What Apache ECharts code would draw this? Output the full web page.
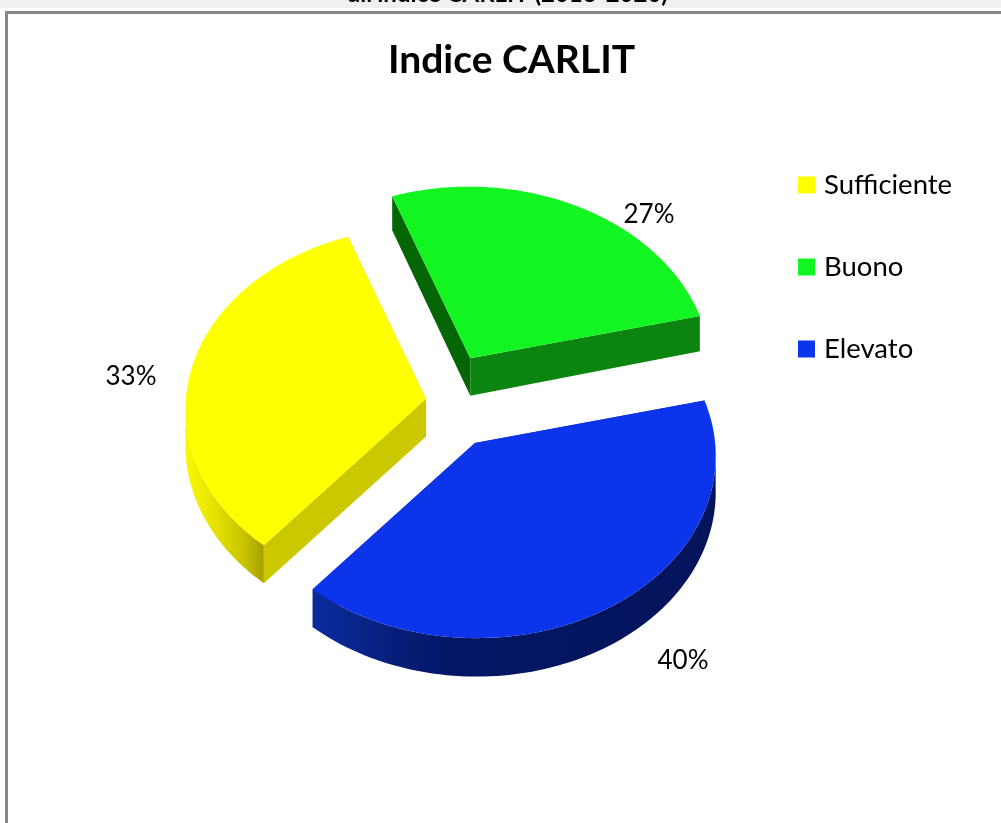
<!DOCTYPE html>
<html>
<head>
<meta charset="utf-8">
<title>Indice CARLIT</title>
<style>
html, body { margin: 0; padding: 0; background: #fff; }
#chart { width: 1001px; height: 823px; }
</style>
<script src="https://cdn.jsdelivr.net/npm/echarts@6/dist/echarts.min.js"></script>
</head>
<body>
<div id="chart"></div>
<script>
// values (labels are the rounded shares)
var categories = ['Sufficiente', 'Buono', 'Elevato'];
var percentages = [33.3, 26.7, 40];

var topColors = ['#ffff00', '#12f521', '#0c34ea'];
var total = percentages.reduce(function (a, b) { return a + b; }, 0);

// projection of the tilted pie: unit circle -> screen
var CX = 440.5, CY = 401;
var AXIS_A = [-82.8, -171.9];
var AXIS_B = [225.5, -61.8];
var PERSPECTIVE = 0.00035;
var DEPTH = 36;
var START = -percentages[0] / total * 360;
var explode = [0.061, 0.265, 0.27];
var labelPos = [[131, 377], [649, 215], [683, 661]];

// side colours: [inner edge at start angle, inner edge at end angle]
var sideColors = [
    ['#cbc800', '#cbc800'],
    ['#056605', '#0c8410'],
    ['#0a2a9a', '#0a2a9a']
];
var rimStops = [
    [[0, '#fbf700'], [0.35, '#e8e400'], [0.75, '#c8c300'], [0.97, '#aaa500'], [1, '#aaa500']],
    [[0, '#0c8410'], [1, '#0c8410']],
    [[0, '#0a2c9e'], [0.18, '#06207e'], [0.35, '#041664'], [1, '#04145c']]
];

function vec(deg) {
    var t = deg * Math.PI / 180;
    return [
        Math.cos(t) * AXIS_A[0] + Math.sin(t) * AXIS_B[0],
        Math.cos(t) * AXIS_A[1] + Math.sin(t) * AXIS_B[1]
    ];
}

function project(deg) {
    var v = vec(deg);
    var w = 1 - PERSPECTIVE * v[1];
    return [v[0] / w, v[1] / w, 1 / w];
}

function sliceStart(idx) {
    var s = START;
    for (var i = 0; i < idx; i++) s += percentages[i] / total * 360;
    return s;
}

function renderSlice(idx, params, api) {
    var value = api.value(0);
    var a0 = sliceStart(idx);
    var a1 = a0 + value / total * 360;
    var mid = vec((a0 + a1) / 2);
    var ox = CX + explode[idx] * mid[0];
    var oy = CY + explode[idx] * mid[1];

    var arc = [];
    var steps = 90;
    for (var i = 0; i <= steps; i++) {
        var p = project(a0 + (a1 - a0) * i / steps);
        arc.push([ox + p[0], oy + p[1], p[2]]);
    }

    var topFace = [[ox, oy]].concat(arc.map(function (p) { return [p[0], p[1]]; }));
    var first = arc[0], last = arc[steps];
    var apexDepth = DEPTH + 1.5;

    // rim: only the part of the arc facing the viewer
    var front = arc.filter(function (p, i) {
        var n = arc[Math.min(i + 1, steps)], b = arc[Math.max(i - 1, 0)];
        return n[0] - b[0] < 0;
    });
    var children = [];
    if (front.length > 1) {
        var rim = front.map(function (p) { return [p[0], p[1]]; });
        for (var j = front.length - 1; j >= 0; j--) {
            rim.push([front[j][0], front[j][1] + DEPTH * front[j][2]]);
        }
        children.push({
            type: 'polygon',
            shape: { points: rim },
            style: {
                fill: new echarts.graphic.LinearGradient(0, 0, 1, 0, rimStops[idx].map(function (s) {
                    return { offset: s[0], color: s[1] };
                }))
            }
        });
    }

    children.push({
        type: 'polygon',
        shape: { points: [[ox, oy], [first[0], first[1]], [first[0], first[1] + DEPTH * first[2]], [ox, oy + apexDepth]] },
        style: { fill: sideColors[idx][0] }
    });
    children.push({
        type: 'polygon',
        shape: { points: [[ox, oy], [last[0], last[1]], [last[0], last[1] + DEPTH * last[2]], [ox, oy + apexDepth]] },
        style: { fill: sideColors[idx][1] }
    });
    children.push({
        type: 'polygon',
        shape: { points: topFace },
        style: { fill: topColors[idx] }
    });
    children.push({
        type: 'text',
        style: {
            text: Math.round(value) + '%',
            x: labelPos[idx][0],
            y: labelPos[idx][1],
            align: 'center',
            verticalAlign: 'middle',
            font: '26px Lato',
            fill: '#000'
        }
    });
    return { type: 'group', children: children };
}

var myChart = echarts.init(document.getElementById('chart'), null, { renderer: 'canvas' });

var option = {
    animation: false,
    backgroundColor: '#fff',
    title: [
        {
            text: "all'indice CARLIT (2013-2020)",
            left: 503,
            top: -23,
            textAlign: 'center',
            textStyle: { fontFamily: 'Lato', fontWeight: 'bold', fontSize: 24, color: '#000' }
        },
        {
            text: 'Indice CARLIT',
            left: 506.5,
            top: 36,
            textAlign: 'center',
            textStyle: { fontFamily: 'Lato', fontWeight: 'bold', fontSize: 39, color: '#000' }
        }
    ],
    legend: {
        orient: 'vertical',
        left: 793,
        top: 166,
        itemWidth: 17,
        itemHeight: 17,
        itemGap: 54,
        icon: 'rect',
        data: categories,
        textStyle: { fontFamily: 'Lato', fontSize: 27.5, color: '#000', padding: [0, 0, 0, 4] }
    },
    graphic: [
        { type: 'rect', z: 0, shape: { x: 0, y: 0, width: 1001, height: 8 }, style: { fill: '#f0f0f0' } },
        { type: 'rect', z: 0, shape: { x: 5, y: 11, width: 996, height: 3 }, style: { fill: '#888888' } },
        { type: 'rect', z: 0, shape: { x: 5, y: 11, width: 3, height: 812 }, style: { fill: '#888888' } }
    ],
    series: categories.map(function (name, idx) {
        return {
            name: name,
            type: 'custom',
            coordinateSystem: 'none',
            itemStyle: { color: topColors[idx] },
            data: [[percentages[idx]]],
            renderItem: function (params, api) { return renderSlice(idx, params, api); }
        };
    })
};

myChart.setOption(option);
</script>
</body>
</html>
